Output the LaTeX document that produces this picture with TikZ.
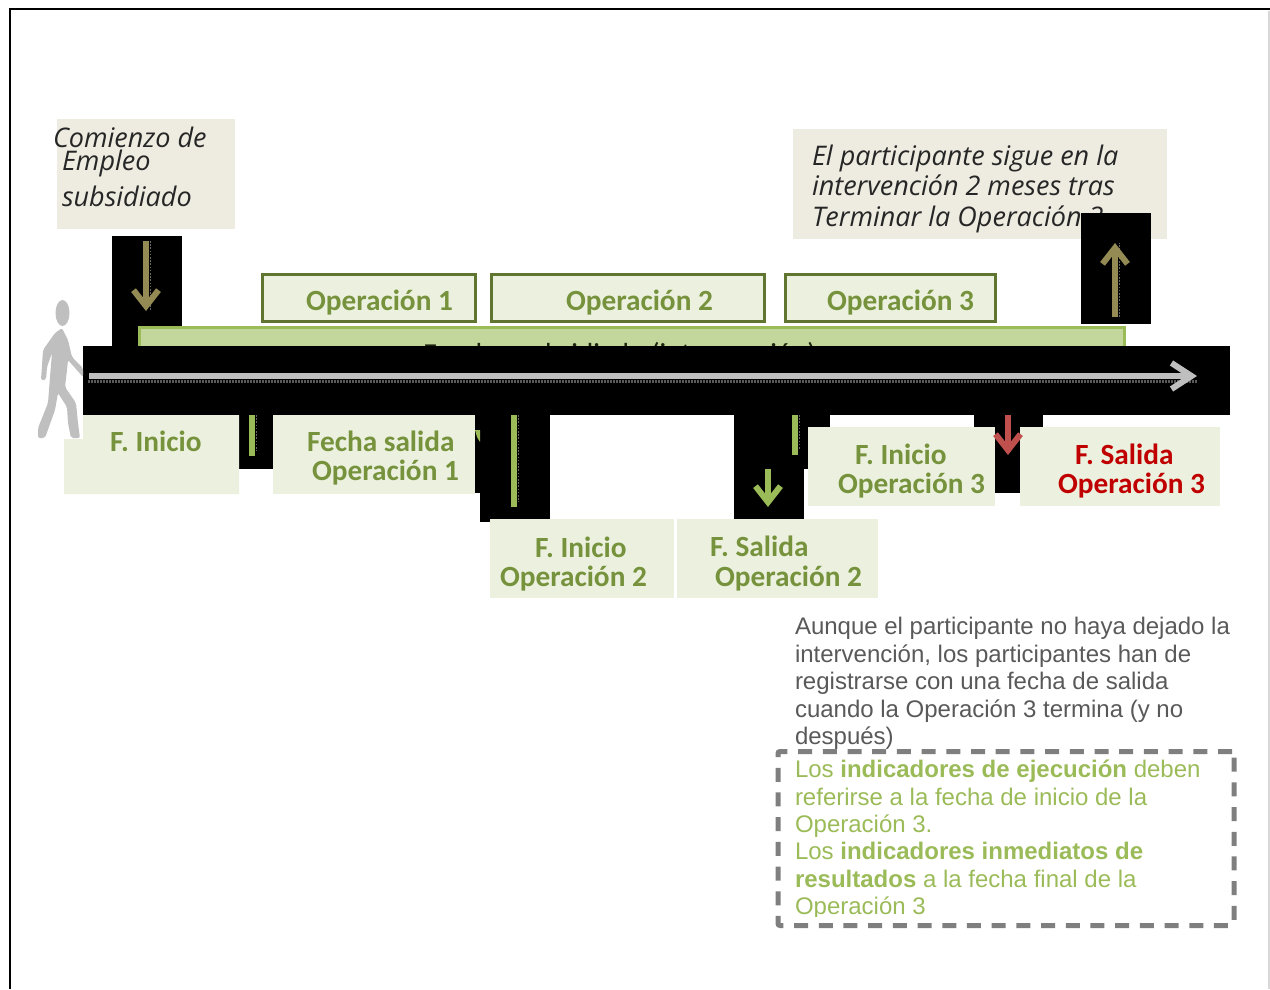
\documentclass[tikz,border=0pt]{standalone}
\usepackage{fontspec}
\setmainfont{Carlito}
\newfontfamily\itfont{Open Sans}
\newfontfamily\arfont{Liberation Sans}
\usetikzlibrary{arrows.meta}
\definecolor{beige}{HTML}{EEECE1}
\definecolor{palegreen}{HTML}{EBF1DE}
\definecolor{midgreen}{HTML}{C3D69B}
\definecolor{accgreen}{HTML}{9BBB59}
\definecolor{txtgreen}{HTML}{76923C}
\definecolor{dkgreen}{HTML}{5F7530}
\definecolor{olive}{HTML}{948A54}
\definecolor{softred}{HTML}{C0504D}
\definecolor{strongred}{HTML}{C00000}
\definecolor{walkgray}{HTML}{BFBFBF}
\definecolor{bodygray}{HTML}{595959}
\definecolor{dashgray}{HTML}{7F7F7F}
\tikzset{
  x=1pt,y=-1pt,
  rectnode/.style={anchor=north west,inner sep=0pt,outer sep=0pt,draw=none},
  blackbox/.style={rectnode,fill=black},
  beigebox/.style={rectnode,fill=beige},
  labelbox/.style={rectnode,fill=palegreen},
  opbox/.style={rectnode,fill=palegreen,draw=dkgreen,line width=3pt},
  txt/.style={anchor=base west,inner sep=0pt,outer sep=0pt},
  ittxt/.style={txt,text=black!85,font=\itfont\itshape\fontsize{27}{27}\selectfont},
  optxt/.style={txt,text=txtgreen,font=\bfseries\fontsize{29.3}{29.3}\selectfont},
  redtxt/.style={txt,text=strongred,font=\bfseries\fontsize{29.3}{29.3}\selectfont},
  graytxt/.style={txt,text=bodygray,font=\arfont\fontsize{24}{24}\selectfont},
  greentxt/.style={txt,text=accgreen,font=\arfont\fontsize{24}{24}\selectfont},
  shaft/.style={line width=6pt},
  headed/.style={line width=6pt,-{Straight Barb[length=16pt,width=25pt,line width=6pt]}},
  speck/.style={draw=white!40!black,line width=1.6pt,dash pattern=on 1.6pt off 1.6pt},
}
\begin{document}
\begin{tikzpicture}
\useasboundingbox (0,0) rectangle (1270,989);
% page frame
\coordinate (fa) at (9.5,989); \coordinate (fb) at (9.5,9); \coordinate (fc) at (1270,9);
\coordinate (fd) at (1269,10.5); \coordinate (fe) at (1269,989);
\draw[walkgray!60,line width=1.5pt] (fd) -- (fe);
\draw[black,line width=2pt] (fa) -- (fb) -- (fc);
% text boxes top
\node[beigebox,minimum width=178pt,minimum height=110pt] (bStart) at (57,119) {};
\node[beigebox,minimum width=374pt,minimum height=110pt] (bStay) at (793,129) {};
\node[ittxt] (t1a) at (53,147) {Comienzo de};
\node[ittxt] (t1b) at (62,170) {Empleo};
\node[ittxt] (t1c) at (62,206) {subsidiado};
\node[ittxt] (t2a) at (812,165) {El participante sigue en la};
\node[ittxt] (t2b) at (812,195) {intervención 2 meses tras};
\node[ittxt] (t2c) at (812,226) {Terminar la Operación 3};
% black arrow backgrounds
\node[blackbox,minimum width=70pt,minimum height=110pt] (kStart) at (112,236) {};
\node[blackbox,minimum width=70pt,minimum height=111pt] (kStay) at (1081,213) {};
\node[blackbox,minimum width=34pt,minimum height=54pt] (kA) at (239,415) {};
\node[blackbox,minimum width=10pt,minimum height=78pt] (kB) at (475,415) {};
\node[blackbox,minimum width=70pt,minimum height=107pt] (kC) at (480,415) {};
\node[blackbox,minimum width=70pt,minimum height=105pt] (kD) at (734,415) {};
\node[blackbox,minimum width=70pt,minimum height=54pt] (kE) at (760,415) {};
\node[blackbox,minimum width=69pt,minimum height=40pt] (kF) at (974,415) {};
\node[blackbox,minimum width=25pt,minimum height=78pt] (kG) at (995,415) {};
\fill[accgreen] (475,430) -- (480,430) -- (480,442) -- (477,437) -- cycle;
% operation boxes and bar
\node[opbox,minimum width=213pt,minimum height=47pt] (op1) at (262.5,274.5) {};
\node[opbox,minimum width=273pt,minimum height=47pt] (op2) at (491.5,274.5) {};
\node[opbox,minimum width=210pt,minimum height=47pt] (op3) at (785.5,274.5) {};
\node[optxt] (op1t) at (306,310) {Operación 1};
\node[optxt] (op2t) at (566,310) {Operación 2};
\node[optxt] (op3t) at (827,310) {Operación 3};
\node[rectnode,fill=midgreen,draw=accgreen,line width=3pt,minimum width=985pt,minimum height=40pt] (bar) at (139.5,327.5) {};
\node[txt,text=black!70!dkgreen,font=\fontsize{29}{29}\selectfont] (bart) at (423,363) {Empleo subsidiado (intervención)};
% timeline
\node[blackbox,minimum width=1147pt,minimum height=69pt] (kMain) at (83,346) {};
% walker
\fill[walkgray] (62.5,313) ellipse [x radius=7,y radius=13];
\fill[walkgray,rounded corners=2pt] (62,328) -- (68,340) -- (72,357) -- (83,368) -- (83,377) -- (68,360) -- (67,370) -- (65,387) -- (76,403) -- (78,423) -- (80,438) -- (71,438) -- (68,423) -- (67,407) -- (58,393) -- (55,410) -- (45,438) -- (38,438) -- (38,428) -- (48,403) -- (50,377) -- (52,353) -- (47,367) -- (46,380) -- (41,380) -- (43,350) -- (55,333) -- cycle;
% label boxes
\fill[palegreen] (83,415) -- (239,415) -- (239,494) -- (64,494) -- (64,439) -- (83,439) -- cycle;
\node[labelbox,minimum width=202pt,minimum height=79pt] (lb2) at (273,415) {};
\node[labelbox,minimum width=184pt,minimum height=79pt] (lb3) at (490,519) {};
\node[labelbox,minimum width=201pt,minimum height=79pt] (lb4) at (677,519) {};
\node[labelbox,minimum width=187pt,minimum height=79pt] (lb5) at (808,427) {};
\node[labelbox,minimum width=200pt,minimum height=79pt] (lb6) at (1020,427) {};
\node[optxt] (l1) at (110,451) {F. Inicio};
\node[optxt] (l2a) at (307,451) {Fecha salida};
\node[optxt] (l2b) at (312,480) {Operación 1};
\node[optxt] (l3a) at (535,557) {F. Inicio};
\node[optxt] (l3b) at (500,586) {Operación 2};
\node[optxt] (l4a) at (710,556) {F. Salida};
\node[optxt] (l4b) at (715,586) {Operación 2};
\node[optxt] (l5a) at (855,464) {F. Inicio};
\node[optxt] (l5b) at (838,493) {Operación 3};
\node[redtxt] (l6a) at (1075,464) {F. Salida};
\node[redtxt] (l6b) at (1058,493) {Operación 3};
% arrow end points
\coordinate (m0) at (89,376); \coordinate (m1) at (1197,376);
\coordinate (s0) at (146,241); \coordinate (s1) at (146,311);
\coordinate (u0) at (1115,317); \coordinate (u1) at (1115,243);
\coordinate (g1a) at (252,415); \coordinate (g1b) at (252,456);
\coordinate (g2a) at (514,415); \coordinate (g2b) at (514,507);
\coordinate (g3a) at (795,415); \coordinate (g3b) at (795,455);
\coordinate (g4a) at (768,469); \coordinate (g4b) at (768,507);
\coordinate (r0) at (1008,415); \coordinate (r1) at (1008,455);
\coordinate (d0) at (88,381.5); \coordinate (d1) at (1197,381.5);
% specks
\draw[speck,line width=3pt,draw=white!35!black,dash pattern=on 1.5pt off 1.5pt] (d0) -- (d1);
\draw[speck] ([xshift=4.5]s0) -- ([xshift=4.5]s1);
\draw[speck] ([xshift=4.5]u0) -- ([xshift=4.5]u1);
\draw[speck] ([xshift=4.5]g1a) -- ([xshift=4.5,yshift=5]g1b);
\draw[speck] ([xshift=4.5]g2a) -- ([xshift=4.5,yshift=5]g2b);
\draw[speck] ([xshift=4.5]g3a) -- ([xshift=4.5,yshift=5]g3b);
% arrows
\draw[walkgray,line width=6pt,-{Straight Barb[length=20pt,width=26pt,line width=6pt]}] (m0) -- (m1);
\draw[olive,headed] (s0) -- (s1);
\draw[olive,headed] (u0) -- (u1);
\draw[accgreen,shaft] (g1a) -- (g1b);
\draw[accgreen,shaft] (g2a) -- (g2b);
\draw[accgreen,shaft] (g3a) -- (g3b);
\draw[accgreen,headed] (g4a) -- (g4b);
\draw[softred,headed] (r0) -- (r1);
% grey note
\begin{scope}
\clip (780,600) rectangle (1240,750);
\node[graytxt] (n1) at (795,634) {Aunque el participante no haya dejado la};
\node[graytxt] (n2) at (795,662) {intervención, los participantes han de};
\node[graytxt] (n3) at (795,689) {registrarse con una fecha de salida};
\node[graytxt] (n4) at (795,717) {cuando la Operación 3 termina (y no};
\node[graytxt] (n5) at (795,744) {después)};
\end{scope}
% dashed box
\node[rectnode,draw=dashgray,line width=5pt,dash pattern=on 14pt off 10.7pt,rounded corners=2pt,minimum width=456pt,minimum height=174pt] (dbox) at (778,751.5) {};
\begin{scope}
\clip (780,755) rectangle (1230,916);
\node[greentxt] (g1) at (795,777) {Los \textbf{indicadores de ejecución} deben};
\node[greentxt] (g2) at (795,805) {referirse a la fecha de inicio de la};
\node[greentxt] (g3) at (795,832) {Operación 3.};
\node[greentxt] (g4) at (795,859) {Los \textbf{indicadores inmediatos de}};
\node[greentxt] (g5) at (795,887) {\textbf{resultados} a la fecha final de la};
\node[greentxt] (g6) at (795,914) {Operación 3};
\end{scope}
\end{tikzpicture}
\end{document}
